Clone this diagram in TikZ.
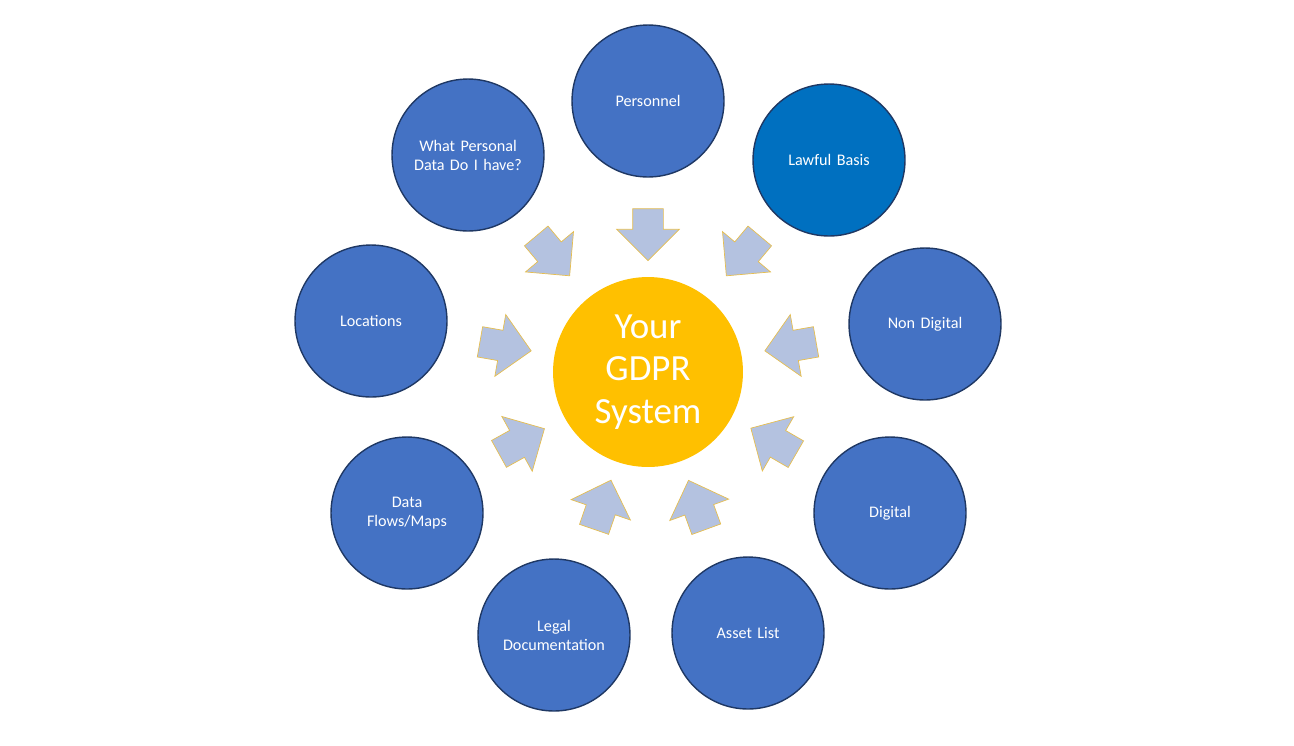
\documentclass[tikz,border=0pt]{standalone}
\usepackage{fontspec}
\setmainfont{Carlito}
\usetikzlibrary{positioning,shapes.arrows}
\definecolor{bubbleColor}{RGB}{68,114,196}
\definecolor{lawfulColor}{RGB}{0,112,192}
\definecolor{rimColor}{RGB}{31,56,100}
\definecolor{coreColor}{RGB}{255,192,0}
\definecolor{arrowColor}{RGB}{180,194,224}
\definecolor{arrowRim}{RGB}{230,190,80}
\tikzstyle{bubble} = [circle, draw=rimColor, thick, fill=bubbleColor, minimum size=3.04cm, inner sep=0pt, text=white, font=\fontsize{9.2}{10.8}\selectfont, align=center, text width=2.6cm]
\tikzstyle{core} = [circle, fill=coreColor, minimum size=3.8cm, text=white, font=\fontsize{21}{24}\selectfont, align=center]
\tikzstyle{feed} = [single arrow, draw=arrowRim, fill=arrowColor, minimum height=1.04cm, inner xsep=0pt, inner ysep=0.3cm, single arrow head extend=0.32cm, single arrow head indent=0pt]
\begin{document}
\begin{tikzpicture}[x=0.02cm, y=-0.02cm]
  \useasboundingbox (0,0) rectangle (1294,745);
  \node [core] (gdpr) at (648,372) {Your\\GDPR\\System};

  \node [bubble] (personnel) at (648,101) {Personnel};
  \node [bubble, fill=lawfulColor] (lawful) at (829,160) {Lawful Basis};
  \node [bubble] (nondigital) at (925,324) {Non Digital};
  \node [bubble] (digital) at (890,513) {Digital};
  \node [bubble] (assets) at (748,633) {Asset List};
  \node [bubble] (legal) at (554,635) {Legal\\Documentation};
  \node [bubble] (flows) at (407,513) {Data\\Flows/Maps};
  \node [bubble] (locations) at (371,321) {Locations};
  \node [bubble] (whatdata) at (468,155) {What Personal\\Data Do I have?};

  % arrows into the core
  \foreach \px/\py/\ang in {648/227/-90, 548/250/-50, 748/250/-130, 498/345/-10,
      798/345/190, 515/445/29, 780/445/150, 600/512/71, 700/512/110}
    \node [feed, rotate=\ang] at (\px,\py) {};
\end{tikzpicture}
\end{document}
